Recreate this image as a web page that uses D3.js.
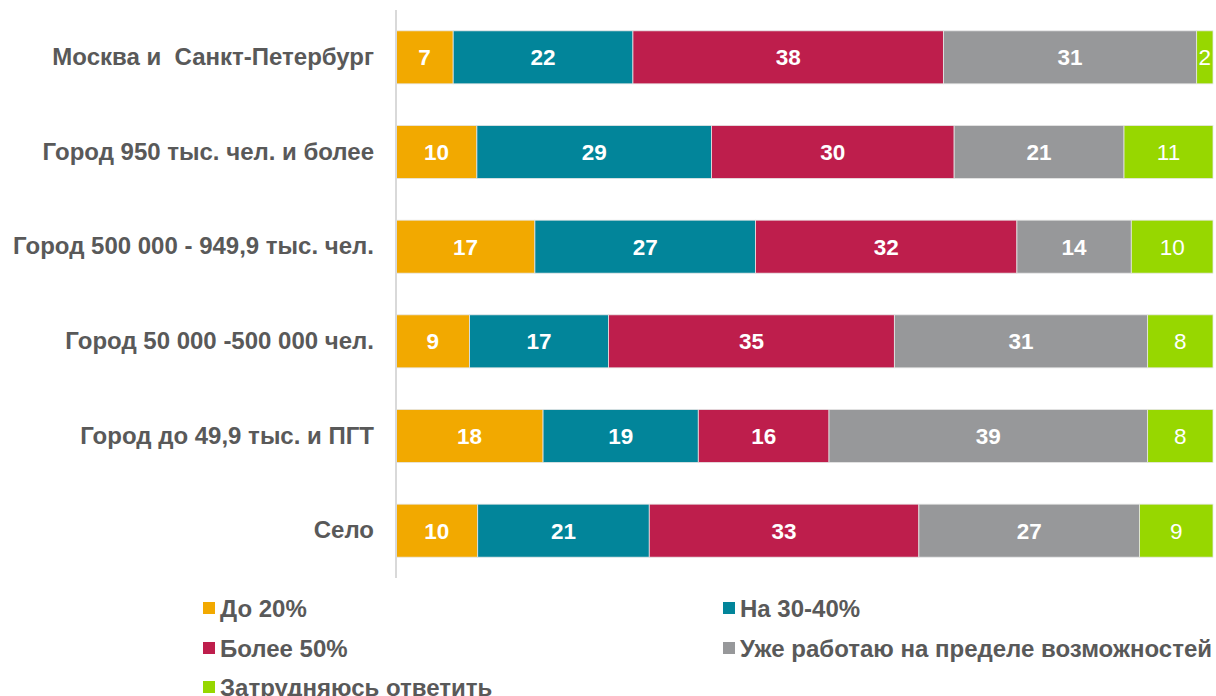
<!DOCTYPE html>
<html>
<head>
<meta charset="utf-8">
<script src="https://cdn.jsdelivr.net/npm/d3@7"></script>
<style>
  body { margin: 0; background: #fff; }
  svg text { font-family: "Liberation Sans", Arial, sans-serif; white-space: pre; }
</style>
</head>
<body>
<div id="chart"></div>
<script>
// categories (top to bottom)
var categories = ["Москва и  Санкт-Петербург", "Город 950 тыс. чел. и более",
  "Город 500 000 - 949,9 тыс. чел.", "Город 50 000 -500 000 чел.",
  "Город до 49,9 тыс. и ПГТ", "Село"];

// series
var seriesNames = ["До 20%", "На 30-40%", "Более 50%", "Уже работаю на пределе возможностей", "Затрудняюсь ответить"];
var upTo20   = [7, 10, 17, 9, 18, 10];
var to30_40  = [22, 29, 27, 17, 19, 21];
var over50   = [38, 30, 32, 35, 16, 33];
var atLimit  = [31, 21, 14, 31, 39, 27];
var hardToSay = [2, 11, 10, 8, 8, 9];

var colors = ["#F2A900", "#02859A", "#BE1E4C", "#97989A", "#97D700"];

var seriesValues = [upTo20, to30_40, over50, atLimit, hardToSay];

var data = categories.map(function(c, i) {
  var row = {cat: c};
  seriesNames.forEach(function(s, j) { row[s] = seriesValues[j][i]; });
  return row;
});

var W = 1216, H = 696;
var margin = {top: 10, right: 3, left: 396, bottom: 118};

var svg = d3.select("#chart").append("svg")
    .attr("width", W)
    .attr("height", H);

var x = d3.scaleLinear()
    .domain([0, 1])
    .range([margin.left, W - margin.right]);

var y = d3.scaleBand()
    .domain(categories)
    .range([margin.top, H - margin.bottom])
    .paddingInner(0.44)
    .paddingOuter(0.22);

// 100% stacked
var stack = d3.stack()
    .keys(seriesNames)
    .offset(d3.stackOffsetExpand);
var stacked = stack(data);

var layers = svg.selectAll(".layer")
  .data(stacked)
  .enter().append("g")
    .attr("class", "layer")
    .attr("fill", function(d, i) { return colors[i]; });

layers.selectAll("rect")
  .data(function(d) { return d; })
  .enter().append("rect")
    .attr("x", function(d) { return x(d[0]); })
    .attr("y", function(d) { return y(d.data.cat); })
    .attr("width", function(d) { return x(d[1]) - x(d[0]); })
    .attr("height", y.bandwidth())
    .attr("stroke", "#e6e6e6")
    .attr("stroke-width", 0.8);

// value labels
layers.each(function(layer, li) {
  d3.select(this).selectAll("text")
    .data(layer)
    .enter().append("text")
      .attr("x", function(d) { return (x(d[0]) + x(d[1])) / 2; })
      .attr("y", function(d) { return y(d.data.cat) + y.bandwidth() / 2; })
      .attr("dy", "0.36em")
      .attr("text-anchor", "middle")
      .attr("fill", "#fff")
      .style("font-size", "22.5px")
      .style("font-weight", li === 4 ? "normal" : "bold")
      .text(function(d) { return d.data[layer.key]; });
});

// category axis
var yAxis = svg.append("g")
    .attr("transform", "translate(" + margin.left + ",0)")
    .call(d3.axisLeft(y).tickSize(0).tickPadding(22));
yAxis.select(".domain")
    .attr("d", "M0," + margin.top + "V" + (H - margin.bottom))
    .attr("stroke", "#d9d9d9")
    .attr("stroke-width", 2);
yAxis.selectAll("text")
    .attr("fill", "#595959")
    .style("font-size", "24px")
    .style("font-weight", "bold")
    .style("font-family", "'Liberation Sans', Arial, sans-serif");

// legend
var legendPos = [[203, 608], [723, 608], [203, 648], [723, 648], [203, 687]];
var legend = svg.selectAll(".legend")
  .data(seriesNames)
  .enter().append("g")
    .attr("class", "legend")
    .attr("transform", function(d, i) { return "translate(" + legendPos[i][0] + "," + legendPos[i][1] + ")"; });
legend.append("rect")
    .attr("x", 0).attr("y", -6)
    .attr("width", 12).attr("height", 12)
    .attr("fill", function(d, i) { return colors[i]; });
legend.append("text")
    .attr("x", 17)
    .attr("dy", "0.36em")
    .attr("fill", "#595959")
    .style("font-size", "24px")
    .style("font-weight", "bold")
    .text(function(d) { return d; });
</script>
</body>
</html>
